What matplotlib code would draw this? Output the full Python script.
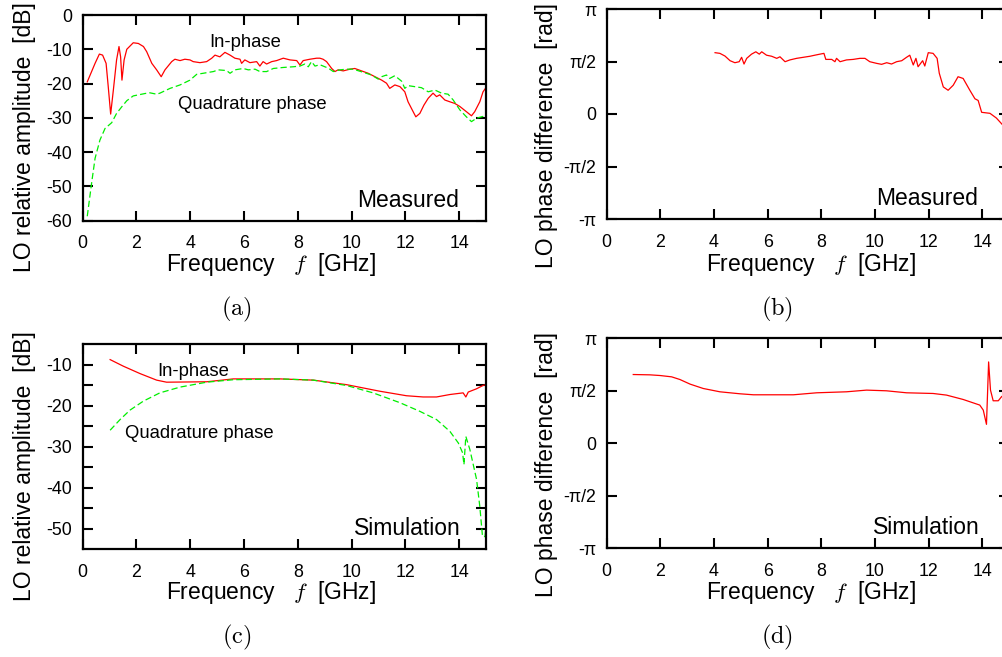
import numpy as np
import matplotlib
matplotlib.use("Agg")
import matplotlib.pyplot as plt

plt.rcParams['font.family'] = ['Liberation Sans', 'DejaVu Sans']
plt.rcParams['mathtext.fontset'] = 'cm'
plt.rcParams['axes.unicode_minus'] = False

# ---------------- data ----------------
# (a) measured amplitude, in-phase
meas_i_f = [0.17, 0.46, 0.62, 0.74, 0.87, 0.95, 1.04, 1.14, 1.26, 1.35, 1.41, 1.46, 1.54, 1.64, 1.88, 2.07,
            2.26, 2.38, 2.57, 2.75, 2.92, 3.06, 3.31, 3.43, 3.62, 3.80, 3.99, 4.11, 4.36, 4.61, 4.8, 4.92,
            5.1, 5.29, 5.48, 5.66, 5.85, 5.91, 6.03, 6.22, 6.47, 6.59, 6.71, 6.84, 7.03, 7.21, 7.46, 7.71,
            7.96, 8.08, 8.2, 8.45, 8.7, 8.82, 8.94, 9.07, 9.26, 9.38, 9.5, 9.69, 9.94, 10.12, 10.37, 10.62,
            10.87, 11.12, 11.3, 11.42, 11.61, 11.8, 11.98, 12.1, 12.29, 12.39, 12.54, 12.69, 12.85, 13.03,
            13.16, 13.28, 13.47, 13.65, 13.84, 14.03, 14.27, 14.46, 14.58, 14.77, 14.89, 14.98]
meas_i_db = [-19.5, -14.1, -11.4, -11.7, -14.1, -20.9, -28.9, -21.9, -13.1, -9.2, -12.2, -19.0, -13.1, -10.0,
             -8.1, -8.3, -9.2, -10.7, -14.1, -16.0, -18.0, -16.0, -13.6, -12.9, -13.3, -12.9, -13.1, -13.6,
             -13.9, -13.6, -12.6, -11.7, -12.2, -10.9, -11.7, -12.6, -12.9, -14.1, -13.1, -13.9, -13.6, -14.9,
             -13.6, -14.3, -13.6, -13.3, -12.6, -13.1, -13.3, -14.6, -13.3, -12.9, -12.6, -12.6, -12.9, -13.6,
             -15.6, -16.5, -16.0, -16.3, -15.8, -15.6, -16.3, -17.0, -18.0, -19.0, -19.9, -21.4, -20.4, -20.9,
             -22.4, -25.3, -28.2, -29.7, -28.7, -26.3, -24.3, -22.8, -23.8, -23.3, -24.8, -25.3, -25.8, -26.7,
             -28.2, -29.4, -28.2, -25.3, -22.4, -21.4]
# (a) measured amplitude, quadrature
meas_q_f = [0.17, 0.33, 0.46, 0.64, 0.83, 1.08, 1.26, 1.45, 1.64, 1.88, 2.07, 2.32, 2.5, 2.75, 2.87, 3.25,
            3.62, 3.99, 4.24, 4.48, 4.86, 5.04, 5.35, 5.48, 5.66, 5.97, 6.16, 6.41, 6.59, 6.84, 7.09, 7.46,
            7.83, 8.08, 8.26, 8.39, 8.51, 8.64, 8.82, 9.07, 9.19, 9.32, 9.57, 9.81, 10.06, 10.43, 10.74,
            10.99, 11.12, 11.3, 11.42, 11.61, 11.86, 11.98, 12.1, 12.35, 12.6, 12.85, 13.1, 13.35, 13.59,
            13.78, 14.03, 14.27, 14.46, 14.65, 14.83, 14.98]
meas_q_db = [-58.7, -49.1, -41.8, -36.5, -33.1, -31.4, -28.7, -26.8, -25.0, -23.6, -23.3, -22.9, -22.7, -23.1,
             -22.8, -21.4, -20.4, -19.0, -17.3, -17.0, -16.5, -16.0, -16.2, -17.0, -16.0, -15.6, -16.0, -15.8,
             -16.5, -16.5, -15.6, -15.3, -15.1, -14.9, -14.3, -15.1, -13.6, -14.9, -14.5, -15.3, -15.8, -16.5,
             -16.0, -15.8, -15.8, -16.7, -17.5, -18.7, -18.0, -17.5, -18.5, -17.7, -19.3, -21.4, -20.6, -20.9,
             -21.2, -22.4, -21.9, -22.8, -23.1, -24.8, -27.7, -29.7, -31.1, -30.1, -29.7, -29.4]

# (b) measured phase difference (units of pi/2)
meas_p_f = [4.04, 4.22, 4.41, 4.6, 4.78, 4.94, 5.03, 5.12, 5.22, 5.4, 5.56, 5.69, 5.78, 5.96, 6.15, 6.34,
            6.46, 6.65, 6.83, 7.08, 7.33, 7.58, 7.76, 7.95, 8.1, 8.17, 8.39, 8.51, 8.57, 8.7, 8.94, 9.19,
            9.44, 9.63, 9.81, 10.06, 10.25, 10.44, 10.62, 10.81, 11.0, 11.18, 11.3, 11.43, 11.53, 11.61,
            11.78, 11.86, 11.99, 12.17, 12.32, 12.4, 12.55, 12.73, 12.92, 13.1, 13.29, 13.54, 13.73, 13.85,
            13.98, 14.29, 14.53, 14.76, 15.0]
meas_p_val = [1.168, 1.155, 1.104, 1.015, 0.977, 0.996, 1.08, 0.952, 1.06, 1.14, 1.185, 1.14, 1.185, 1.12,
              1.1, 1.06, 1.09, 0.996, 1.03, 1.06, 1.08, 1.1, 1.12, 1.14, 1.155, 1.04, 1.04, 0.996, 1.06,
              0.996, 1.03, 1.04, 1.06, 1.06, 0.996, 0.965, 0.946, 0.977, 0.952, 0.996, 1.015, 1.08, 1.12,
              0.934, 1.06, 0.9, 1.015, 0.914, 1.168, 1.155, 1.06, 0.777, 0.516, 0.452, 0.548, 0.71, 0.677,
              0.452, 0.29, 0.258, 0.032, 0.013, -0.077, -0.206, -0.35]

# (c) simulated amplitude
sim_i_f = [1.02, 1.51, 2.13, 2.75, 3.12, 4.61, 5.6, 7.34, 8.58, 9.81, 11.05, 12.04, 12.66, 13.16, 13.66,
           14.15, 14.25, 14.34, 14.65, 14.89, 15.0]
sim_i_db = [-8.8, -10.4, -12.2, -13.8, -14.3, -14.2, -13.5, -13.5, -13.8, -14.9, -16.5, -17.6, -17.9, -17.9,
            -17.3, -16.9, -17.9, -16.7, -15.9, -15.1, -14.9]
sim_q_f = [1.02, 1.39, 1.76, 2.26, 2.87, 3.62, 4.61, 5.6, 7.34, 8.58, 9.81, 10.8, 11.8, 12.54, 13.16, 13.66,
           13.97, 14.13, 14.18, 14.25, 14.4, 14.65, 14.77, 14.87, 14.96, 15.0]
sim_q_db = [-26.0, -23.4, -21.1, -18.9, -16.9, -15.5, -14.3, -13.7, -13.5, -13.8, -15.1, -16.9, -19.3, -21.4,
            -23.4, -26.3, -29.1, -31.5, -34.4, -27.5, -30.7, -38.0, -44.6, -51.9, -51.9, -49.4]

# (d) simulated phase difference (units of pi/2)
sim_p_f = [0.99, 1.61, 1.99, 2.42, 2.73, 3.11, 3.6, 4.22, 4.97, 5.47, 6.96, 7.83, 8.94, 9.69, 10.43, 11.18,
           12.17, 12.67, 13.29, 13.91, 14.04, 14.16, 14.2, 14.24, 14.31, 14.41, 14.6, 14.72, 15.0]
sim_p_val = [1.31, 1.304, 1.291, 1.266, 1.215, 1.127, 1.044, 0.981, 0.943, 0.924, 0.924, 0.962, 0.981, 1.013,
             1.0, 0.962, 0.949, 0.918, 0.835, 0.728, 0.633, 0.361, 0.949, 1.55, 1.013, 0.81, 0.81, 0.886, 1.0]

amp_a_ticks = [0, -10, -20, -30, -40, -50, -60]
amp_c_ticks = [-10, -20, -30, -40, -50]
freq_ticks = [0, 2, 4, 6, 8, 10, 12, 14]
phase_ticks = [-np.pi, -np.pi / 2, 0, np.pi / 2, np.pi]
phase_labels = ['-π', '-π/2', '0', 'π/2', 'π']

# ---------------- figure ----------------
W, H = 1003, 657
fig = plt.figure(figsize=(W / 100, H / 100), dpi=100)


def box(l, t, r, b):
    return [l / W, 1 - b / H, (r - l) / W, (b - t) / H]


def fx(x):
    return x / W


def fy(y):
    return 1 - y / H


RED = '#ff0000'
GREEN = '#00ee00'
TICK_FS = 12.8
LAB_FS = 16.5
ANN_FS = 13.3


def style(ax):
    for s in ax.spines.values():
        s.set_linewidth(1.6)
    ax.tick_params(which='both', direction='in', length=7, width=1.5, top=True, right=True,
                   labelsize=TICK_FS)
    ax.tick_params(axis='x', pad=10.5)
    ax.tick_params(axis='y', pad=7.5)
    ax.set_xlim(0, 15)
    ax.set_xticks(freq_ticks)


axa = fig.add_axes(box(82.7, 15, 486, 220.7))
axb = fig.add_axes(box(606.7, 9, 1009, 219))
axc = fig.add_axes(box(82.7, 344, 486, 549.3))
axd = fig.add_axes(box(606.7, 338.3, 1009, 548.3))

for ax in (axa, axb, axc, axd):
    style(ax)

dash = (0, (5, 2.5))
LW = 0.9

# (a)
axa.plot(meas_i_f, meas_i_db, color=RED, lw=LW)
axa.plot(meas_q_f, meas_q_db, color=GREEN, lw=LW, linestyle=dash)
axa.set_ylim(-60, 0)
axa.set_yticks(amp_a_ticks)
axa.set_yticklabels([str(v) for v in amp_a_ticks])

# (b)
axb.plot(meas_p_f, np.array(meas_p_val) * np.pi / 2, color=RED, lw=LW)
axb.set_ylim(-np.pi, np.pi)
axb.set_yticks(phase_ticks)
axb.set_yticklabels(phase_labels)

# (c)
axc.plot(sim_i_f, sim_i_db, color=RED, lw=LW)
axc.plot(sim_q_f, sim_q_db, color=GREEN, lw=LW, linestyle=dash)
axc.set_ylim(-55, -5)
axc.set_yticks(amp_c_ticks)
axc.set_yticklabels([str(v) for v in amp_c_ticks])
axc.set_yticks([-15, -25, -35, -45], minor=True)

# (d)
axd.plot(sim_p_f, np.array(sim_p_val) * np.pi / 2, color=RED, lw=LW)
axd.set_ylim(-np.pi, np.pi)
axd.set_yticks(phase_ticks)
axd.set_yticklabels(phase_labels)

for ax in (axa, axb, axc, axd):
    ax.set_xticklabels([str(v) for v in freq_ticks])

# axis labels
xlab = 'Frequency   $f$  [GHz]'
for cx, by in [(271, 270.7), (811, 270.7), (271, 599.3), (811, 599.3)]:
    fig.text(fx(cx), fy(by), xlab, fontsize=LAB_FS, ha='center', va='baseline')

ylab_amp = 'LO relative amplitude  [dB]'
ylab_ph = 'LO phase difference  [rad]'
for x, y, s in [(31, 272, ylab_amp), (553, 268, ylab_ph), (31, 600.7, ylab_amp), (553, 596.7, ylab_ph)]:
    fig.text(fx(x), fy(y), s, fontsize=LAB_FS, rotation=90, rotation_mode='anchor',
             ha='left', va='baseline')

# annotations
fig.text(fx(209), fy(46.7), 'In-phase', fontsize=ANN_FS, ha='left', va='baseline')
fig.text(fx(177.7), fy(109.3), 'Quadrature phase', fontsize=ANN_FS, ha='left', va='baseline')
fig.text(fx(356.7), fy(206.7), 'Measured', fontsize=LAB_FS, ha='left', va='baseline')
fig.text(fx(876), fy(205), 'Measured', fontsize=LAB_FS, ha='left', va='baseline')
fig.text(fx(157.3), fy(375.7), 'In-phase', fontsize=ANN_FS, ha='left', va='baseline')
fig.text(fx(125.3), fy(438.3), 'Quadrature phase', fontsize=ANN_FS, ha='left', va='baseline')
fig.text(fx(354), fy(535), 'Simulation', fontsize=LAB_FS, ha='left', va='baseline')
fig.text(fx(873.3), fy(534), 'Simulation', fontsize=LAB_FS, ha='left', va='baseline')

# panel letters
for cx, by, s in [(236.7, 315, 'a'), (777.5, 315, 'b'), (236.7, 643, 'c'), (777.5, 643, 'd')]:
    fig.text(fx(cx), fy(by), r'$(\mathrm{%s})$' % s, fontsize=17.5, ha='center', va='baseline')

fig.savefig('out.png', dpi=100)
